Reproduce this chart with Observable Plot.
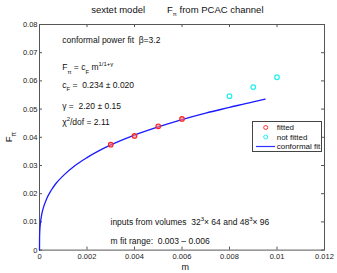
<!DOCTYPE html>
<html><head><meta charset="utf-8">
<script src="https://cdn.jsdelivr.net/npm/d3@7"></script>
<script src="https://cdn.jsdelivr.net/npm/@observablehq/plot@0.6"></script>
<style>body{margin:0;background:#fff}</style>
</head><body><div id="chart"></div>
<script>
// data
const fittedM = [0.003, 0.004, 0.005, 0.006];
const fittedF = [0.0374, 0.0405, 0.0439, 0.0465];
const notFittedM = [0.008, 0.009, 0.010];
const notFittedF = [0.0546, 0.0578, 0.0613];
const fitM = [0, 0.000003, 0.00001, 0.00003, 0.00006, 0.0001, 0.0002, 0.0003, 0.0005, 0.0007, 0.001, 0.0015, 0.002, 0.003, 0.004, 0.005, 0.006, 0.007, 0.008, 0.009, 0.0095];
const fitF = [0, 0.0043, 0.0063, 0.0088, 0.0110, 0.0129, 0.0160, 0.0182, 0.0213, 0.0237, 0.0264, 0.0300, 0.0328, 0.0373, 0.0408, 0.0437, 0.0463, 0.0486, 0.0506, 0.0526, 0.0535];
const xTicks = [0, 0.002, 0.004, 0.006, 0.008, 0.010, 0.012];
const yTicks = [0, 0.01, 0.02, 0.03, 0.04, 0.05, 0.06, 0.07, 0.08];
const legendLabels = ["fitted", "not fitted", "conformal fit"];

const fitted = fittedM.map((m, i) => ({m, F: fittedF[i]}));
const notFitted = notFittedM.map((m, i) => ({m, F: notFittedF[i]}));
const fit = fitM.map((m, i) => ({m, F: fitF[i]}));

const W = 337, H = 273, ML = 39, MR = 13, MT = 24, MB = 23.4;
const FH = H - MT - MB, FW = W - ML - MR;
const fmt = d3.format("~g");
const font = "'Liberation Sans', Arial, Helvetica, sans-serif";

const note = (txt, px, py, extra = {}) =>
  Plot.text([txt], {text: d => d, frameAnchor: "top-left", dx: px - ML, dy: py - MT,
    textAnchor: "start", lineAnchor: "middle", fontSize: 8.5, fill: "#111", ...extra});

const chart = Plot.plot({
  width: W, height: H, marginLeft: ML, marginRight: MR, marginTop: MT, marginBottom: MB,
  style: {fontFamily: font, fontSize: "7.5px", background: "white", color: "#222", overflow: "visible"},
  x: {domain: [0, 0.012]},
  y: {domain: [0, 0.08]},
  marks: [
    Plot.frame({stroke: "#555", strokeWidth: 1}),
    Plot.axisX(xTicks, {tickSize: 0, tickPadding: 4, tickFormat: fmt, label: null, fontSize: 7.5}),
    Plot.axisY(yTicks, {tickSize: 0, tickPadding: 2, tickFormat: fmt, label: null, fontSize: 7.5}),
    Plot.tickX(xTicks, {x: d => d, insetTop: FH - 3, stroke: "#555"}),
    Plot.tickX(xTicks, {x: d => d, insetBottom: FH - 3, stroke: "#555"}),
    Plot.tickY(yTicks, {y: d => d, insetLeft: FW - 3, stroke: "#555"}),
    Plot.tickY(yTicks, {y: d => d, insetRight: FW - 3, stroke: "#555"}),
    Plot.line(fit, {x: "m", y: "F", stroke: "#1a1aff", strokeWidth: 1.3, curve: "monotone-x"}),
    Plot.dot(fitted, {x: "m", y: "F", r: 2.3, stroke: "#ff2020", fill: "#ff8080", fillOpacity: 0.6, strokeWidth: 1.1}),
    Plot.dot(notFitted, {x: "m", y: "F", r: 2.3, stroke: "#20f0f0", fill: "none", strokeWidth: 1.2}),
    // titles and labels
    note("sextet model", 90.7, 9.5, {fontSize: 9.5}),
    note("F_{π} from PCAC channel", 166.5, 9.5, {fontSize: 9.5}),
    note("m", 181, 266.5, {fontSize: 9}),
    // annotations
    note("conformal power fit  β=3.2", 61.7, 40),
    note("F_{π} = c_{F} m^{1/1+γ}", 61.7, 67),
    note("c_{F} =  0.234 ± 0.020", 61.7, 84.5),
    note("γ =  2.20 ± 0.15", 61.7, 106),
    note("χ^{2}/dof = 2.11", 61.7, 122),
    note("inputs from volumes  32^{3}× 64 and 48^{3}× 96", 110, 221.5),
    note("m fit range:  0.003 – 0.006", 110, 241)
  ]
});

const svg = d3.select(chart);
// y axis label (rotated)
svg.append("text").attr("transform", "translate(12,137) rotate(-90)")
  .attr("text-anchor", "middle").attr("dy", "0.32em").attr("font-size", 9.5)
  .attr("font-family", font).attr("fill", "#111").text("F_{π}");

// rich text: _{sub} and ^{sup}
function rich(el) {
  const s = el.textContent;
  if (!/[_^]\{/.test(s)) return;
  const fs = parseFloat(el.getAttribute("font-size")) || parseFloat(getComputedStyle(el).fontSize) || 8.5;
  el.textContent = "";
  let cur = 0;
  const add = (t, kind) => {
    const sp = document.createElementNS("http://www.w3.org/2000/svg", "tspan");
    const target = kind === 1 ? fs * 0.4 : kind === -1 ? -fs * 0.45 : 0;
    sp.setAttribute("dy", (target - cur).toFixed(2));
    cur = target;
    if (kind !== 0) sp.setAttribute("font-size", (fs * 0.7).toFixed(2));
    sp.textContent = t;
    el.appendChild(sp);
  };
  const re = /([_^])\{([^}]*)\}/g;
  let last = 0, m;
  while ((m = re.exec(s))) {
    if (m.index > last) add(s.slice(last, m.index), 0);
    add(m[2], m[1] === "_" ? 1 : -1);
    last = re.lastIndex;
  }
  if (last < s.length) add(s.slice(last), 0);
}
svg.selectAll("text").each(function () { rich(this); });

// legend box
const lg = svg.append("g").attr("font-family", font).attr("font-size", 8).attr("text-anchor", "start");
lg.append("rect").attr("x", 252.5).attr("y", 121.5).attr("width", 69).attr("height", 30)
  .attr("fill", "white").attr("stroke", "#444").attr("stroke-width", 1);
lg.append("circle").attr("cx", 265.7).attr("cy", 127.5).attr("r", 2).attr("fill", "none").attr("stroke", "#ff3030");
lg.append("circle").attr("cx", 265.7).attr("cy", 137).attr("r", 2).attr("fill", "none").attr("stroke", "#20f0f0");
lg.append("line").attr("x1", 256).attr("x2", 275).attr("y1", 146.5).attr("y2", 146.5).attr("stroke", "#3030ff").attr("stroke-width", 1.2);
legendLabels.forEach((t, i) => {
  lg.append("text").attr("x", 276.7).attr("y", [127.5, 137, 146.5][i]).attr("dy", "0.32em").attr("fill", "#111").text(t);
});

document.getElementById("chart").appendChild(chart);
</script>
</body></html>
